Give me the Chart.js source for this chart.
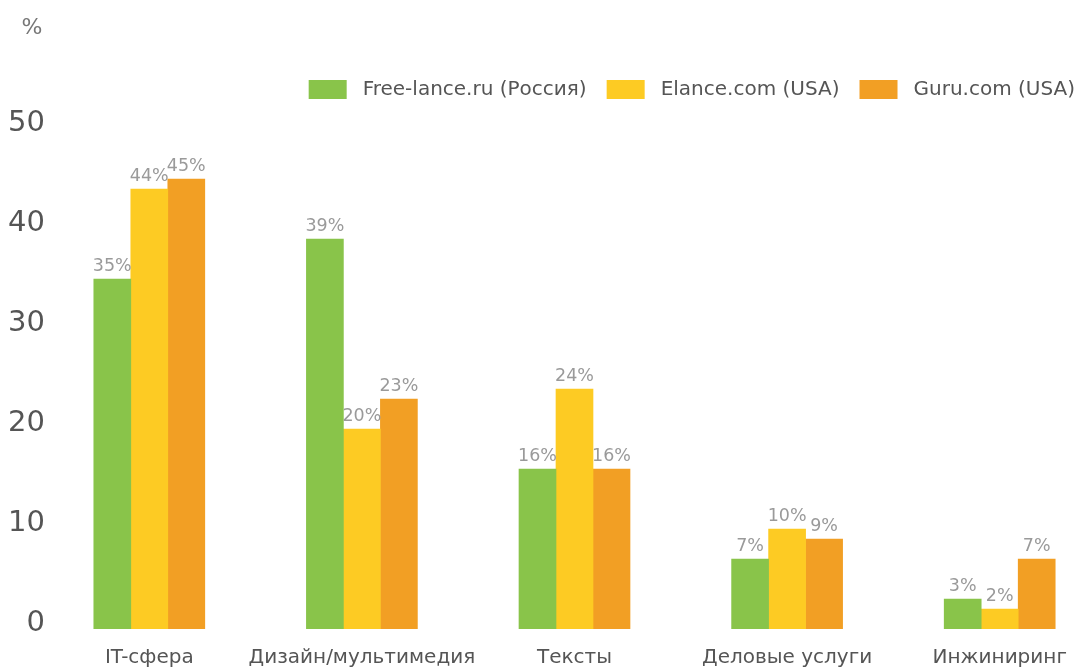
<!DOCTYPE html>
<html>
<head>
<meta charset="utf-8">
<script src="https://cdn.jsdelivr.net/npm/chart.js@4"></script>
<style>
  html, body { margin: 0; padding: 0; background: #fff; overflow: hidden; }
  /* холст чуть больше окна, лишние края пустые и обрезаются */
  #wrap { width: 1110px; height: 687px; }
</style>
</head>
<body>
<div id="wrap"><canvas id="barCanvas"></canvas></div>
<script>
// данные с картинки
const categories = ["IT-сфера", "Дизайн/мультимедия", "Тексты", "Деловые услуги", "Инжиниринг"];
const seriesNames = ["Free-lance.ru (Россия)", "Elance.com (USA)", "Guru.com (USA)"];
const freelanceRu = [35, 39, 16, 7, 3];
const elance = [44, 20, 24, 10, 2];
const guru = [45, 23, 16, 9, 7];
const yTicks = [0, 10, 20, 30, 40, 50];

const colors = ["#89C44A", "#FDCB23", "#F29F24"];
const font = "'DejaVu Sans', 'Open Sans', sans-serif";

// подписи значений, легенда и знак "%"
const extras = {
  id: "extras",
  afterDatasetsDraw(chart) {
    const ctx = chart.ctx;
    ctx.save();
    ctx.font = "17.5px " + font;
    ctx.fillStyle = "#9a9a9a";
    ctx.textAlign = "center";
    ctx.textBaseline = "bottom";
    chart.data.datasets.forEach((ds, i) => {
      chart.getDatasetMeta(i).data.forEach((bar, j) => {
        ctx.fillText(ds.data[j] + "%", bar.x, bar.y - 4);
      });
    });

    // легенда справа налево
    ctx.font = "20px " + font;
    ctx.textAlign = "left";
    ctx.textBaseline = "middle";
    let x = 1075;
    for (let i = seriesNames.length - 1; i >= 0; i--) {
      const tw = ctx.measureText(seriesNames[i]).width;
      const tx = x - tw;
      ctx.fillStyle = "#555";
      ctx.fillText(seriesNames[i], tx, 90);
      ctx.fillStyle = colors[i];
      ctx.fillRect(tx - 16 - 38, 80, 38, 19);
      x = tx - 16 - 38 - 20;
    }

    ctx.font = "22px " + font;
    ctx.fillStyle = "#777";
    ctx.textAlign = "center";
    ctx.fillText("%", 32, 28);
    ctx.restore();
  }
};

const ctx = document.getElementById("barCanvas").getContext("2d");
new Chart(ctx, {
  type: "bar",
  data: {
    labels: categories,
    datasets: [
      { label: seriesNames[0], data: freelanceRu, backgroundColor: colors[0] },
      { label: seriesNames[1], data: elance, backgroundColor: colors[1] },
      { label: seriesNames[2], data: guru, backgroundColor: colors[2] }
    ]
  },
  options: {
    responsive: true,
    maintainAspectRatio: false,
    animation: false,
    layout: { padding: { top: 129, right: 4, bottom: 0, left: 0 } },
    datasets: { bar: { barThickness: 37 } },
    plugins: {
      legend: { display: false },
      tooltip: { enabled: false }
    },
    scales: {
      x: {
        grid: { display: false, drawTicks: false },
        border: { display: false },
        ticks: {
          color: "#555", padding: 17, maxRotation: 0, autoSkip: false,
          font: { family: font, size: 20 }
        }
      },
      y: {
        min: 0,
        max: 50,
        afterBuildTicks(scale) { scale.ticks = yTicks.map(v => ({ value: v })); },
        afterFit(scale) { scale.width = 43; },
        grid: { display: false, drawTicks: false },
        border: { display: false },
        ticks: { color: "#555", padding: -2, labelOffset: -6, font: { family: font, size: 29 } }
      }
    }
  },
  plugins: [extras]
});
</script>
</body>
</html>
